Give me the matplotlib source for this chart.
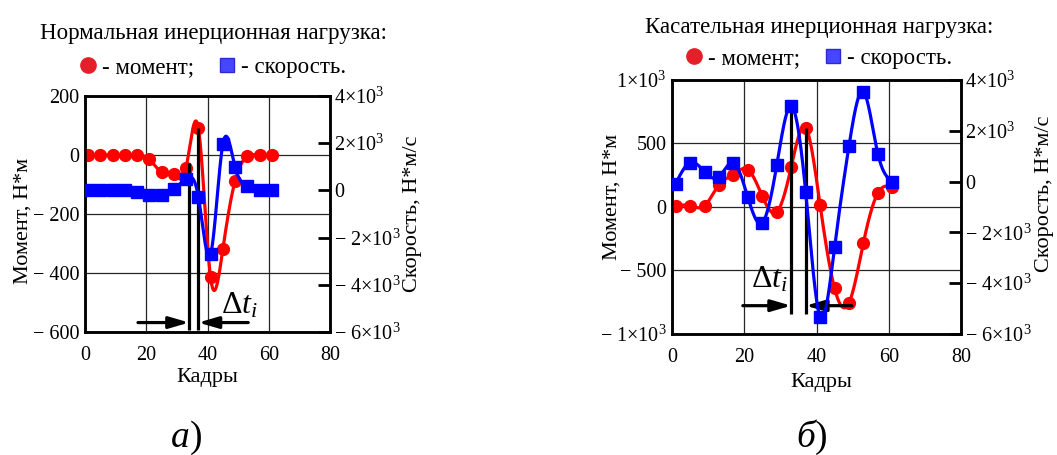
import numpy as np
import matplotlib
matplotlib.use("Agg")
import matplotlib.pyplot as plt
from matplotlib.lines import Line2D
from matplotlib.transforms import ScaledTranslation

plt.rcParams['font.family'] = ['Liberation Serif', 'DejaVu Serif']
plt.rcParams['mathtext.fontset'] = 'custom'
plt.rcParams['mathtext.rm'] = 'Liberation Serif'
plt.rcParams['mathtext.it'] = 'Liberation Serif:italic'
plt.rcParams['mathtext.default'] = 'regular'

# ---- data -------------------------------------------------------------
frames = [1, 5, 9, 13, 17, 21, 25, 29, 33, 37, 41, 45, 49, 53, 57, 61]

# (a) normal inertial load
moment_a = [0, 0, 0, 0, 0, -15, -58, -65, -43, 92, -415, -320, -88, -5, 0, 0]
speed_a = [0, 0, 0, 0, -70, -200, -200, 50, 500, -260, -2700, 1950, 1000, 170, 0, 0]

# (b) tangential inertial load
moment_b = [10, 10, 10, 175, 255, 295, 85, -40, 315, 625, 15, -640, -755, -280, 110, 160]
speed_b = [-90, 750, 390, 190, 750, -620, -1620, 650, 2980, -400, -5320, -2590, 1410, 3540, 1090, 0]

x_ticks = [0, 20, 40, 60, 80]
moment_ticks_a = [200, 0, -200, -400, -600]
moment_labels_a = ['200', '0', '\u2212 200', '\u2212 400', '\u2212 600']
moment_ticks_b = [1000, 500, 0, -500, -1000]
moment_labels_b = [r'$1{\times}10^{3}$', '500', '0', '\u2212 500', '\u2212 ' + r'$1{\times}10^{3}$']
speed_ticks = [4000, 2000, 0, -2000, -4000, -6000]
speed_labels = [r'$4{\times}10^{3}$', r'$2{\times}10^{3}$', '0',
                '\u2212 ' + r'$2{\times}10^{3}$', '\u2212 ' + r'$4{\times}10^{3}$',
                '\u2212 ' + r'$6{\times}10^{3}$']

RED = '#ff0000'
BLUE = '#0000ff'


def cubic_spline(x, y, xs):
    """Natural cubic spline through (x, y), evaluated at xs."""
    x = np.asarray(x, float)
    y = np.asarray(y, float)
    n = len(x)
    h = np.diff(x)
    A = np.zeros((n, n))
    r = np.zeros(n)
    A[0, 0] = A[-1, -1] = 1.0
    for i in range(1, n - 1):
        A[i, i - 1] = h[i - 1]
        A[i, i] = 2 * (h[i - 1] + h[i])
        A[i, i + 1] = h[i]
        r[i] = 3 * ((y[i + 1] - y[i]) / h[i] - (y[i] - y[i - 1]) / h[i - 1])
    c = np.linalg.solve(A, r)
    b = (y[1:] - y[:-1]) / h - h * (2 * c[:-1] + c[1:]) / 3
    d = (c[1:] - c[:-1]) / (3 * h)
    idx = np.clip(np.searchsorted(x, xs) - 1, 0, n - 2)
    dx = xs - x[idx]
    return y[idx] + b[idx] * dx + c[idx] * dx ** 2 + d[idx] * dx ** 3


W, H = 1057, 455
fig = plt.figure(figsize=(W / 100, H / 100), dpi=100)

TICK_FS = 14.5
LABEL_FS = 16
LEGEND_FS = 16.5


def panel(rect, moment, speed, mlim, mticks, mlabels, title, legend_anchor,
          legend_gap, ylab_pos, y2lab_pos, xlab_pos, marks, arrow_y,
          arrow_tails, dt_pos, line_bottom):
    ax = fig.add_axes(rect)
    ax2 = ax.twinx()
    xs = np.linspace(frames[0], frames[-1], 1200)

    ax.plot(xs, cubic_spline(frames, moment, xs), color=RED, lw=2.3, zorder=3)
    ax.plot(frames, moment, 'o', color=RED, ms=8.5, zorder=4)
    ax2.plot(xs, cubic_spline(frames, speed, xs), color=BLUE, lw=2.3, zorder=3)
    ax2.plot(frames, speed, 's', color=BLUE, ms=8, zorder=4)

    ax.set_xlim(0, 80)
    ax.set_ylim(*mlim)
    ax2.set_ylim(-6000, 4000)

    ax.set_xticks(x_ticks)
    ax.set_xticklabels([str(t) for t in x_ticks], fontsize=TICK_FS)
    ax.set_yticks(mticks)
    ax.set_yticklabels(mlabels, fontsize=TICK_FS)
    ax2.set_yticks(speed_ticks)
    ax2.set_yticklabels(speed_labels, fontsize=TICK_FS)

    shift = ScaledTranslation(3 / 100, 0, fig.dpi_scale_trans)
    for lab in ax.get_xticklabels():
        lab.set_transform(lab.get_transform() + shift)

    ax.grid(True, color='0.15', lw=0.9)
    ax.tick_params(axis='y', length=0, pad=4)
    ax.tick_params(axis='x', length=0, pad=10)
    ax2.tick_params(axis='y', direction='in', length=9, width=2, pad=3)

    for a in (ax, ax2):
        for s in a.spines.values():
            s.set_linewidth(1.8)
            s.set_color('black')

    ax.set_xlabel('Кадры', fontsize=LABEL_FS)
    ax.xaxis.set_label_coords(*xlab_pos)
    ax.set_ylabel('Момент, Н*м', fontsize=LABEL_FS)
    ax.yaxis.set_label_coords(*ylab_pos)
    ax2.set_ylabel('Скорость, Н*м/с', fontsize=LABEL_FS, rotation=90)
    ax2.yaxis.set_label_coords(*y2lab_pos)

    # time shift markers between the peaks
    for xm, ytop in marks:
        ax.plot([xm, xm], [line_bottom, ytop], color='black', lw=2.3, zorder=5,
                solid_capstyle='butt')
    for tail, head in zip(arrow_tails, [m[0] for m in marks]):
        ax.annotate('', xy=(head, arrow_y), xytext=(tail, arrow_y),
                    arrowprops=dict(arrowstyle='-|>,head_length=1.2,head_width=0.35',
                                    color='black', lw=2.3, shrinkA=0, shrinkB=0),
                    zorder=6)
    ax.text(dt_pos[0], dt_pos[1], r'$\Delta \mathit{t}_{\mathit{i}}$', fontsize=23,
            ha='center', va='center', zorder=7)

    handles = [Line2D([], [], ls='none', marker='o', ms=11, color='#e3202a'),
               Line2D([], [], ls='none', marker='s', ms=10.5, color='#4646ff',
                      markeredgecolor='#2a2ad0')]
    fig.legend(handles, ['- момент;', '- скорость.'], ncol=2,
               title=title, title_fontsize=LEGEND_FS, fontsize=LEGEND_FS,
               loc='upper center', bbox_to_anchor=legend_anchor,
               bbox_transform=fig.transFigure, frameon=False,
               handlelength=0.7, handletextpad=0.25, columnspacing=1.1,
               labelspacing=legend_gap, borderpad=0.0)
    return ax, ax2


# panel (a)
panel(rect=[85 / W, 1 - 332 / H, 245 / W, 236 / H],
      moment=moment_a, speed=speed_a, mlim=(-600, 200),
      mticks=moment_ticks_a, mlabels=moment_labels_a,
      title='Нормальная инерционная нагрузка:',
      legend_anchor=(213 / W, 1 - 12 / H), legend_gap=0.55,
      ylab_pos=(-0.215, 0.47), y2lab_pos=(1.3, 0.5), xlab_pos=(0.5, -0.153),
      marks=[(34, -27), (37, 92)], arrow_y=-568, arrow_tails=[17.3, 53.3],
      dt_pos=(50.5, -512), line_bottom=-592)

# panel (b)
panel(rect=[672 / W, 1 - 334 / H, 289 / W, 254 / H],
      moment=moment_b, speed=speed_b, mlim=(-1000, 1000),
      mticks=moment_ticks_b, mlabels=moment_labels_b,
      title='Касательная инерционная нагрузка:',
      legend_anchor=(819 / W, 1 - 6 / H), legend_gap=0.42,
      ylab_pos=(-0.173, 0.54), y2lab_pos=(1.255, 0.55), xlab_pos=(0.515, -0.154),
      marks=[(33, 796), (37, 625)], arrow_y=-777, arrow_tails=[19.6, 49.8],
      dt_pos=(27.1, -572), line_bottom=-842)

# sub-figure captions
for xc, letter in [(190, 'а'), (815, 'б')]:
    fig.text(xc / W, 1 - 438 / H, letter, fontsize=27, style='italic',
             ha='right', va='center')
    fig.text(xc / W, 1 - 438 / H, ')', fontsize=27, ha='left', va='center')

fig.savefig('out.png', dpi=100, facecolor='white')
